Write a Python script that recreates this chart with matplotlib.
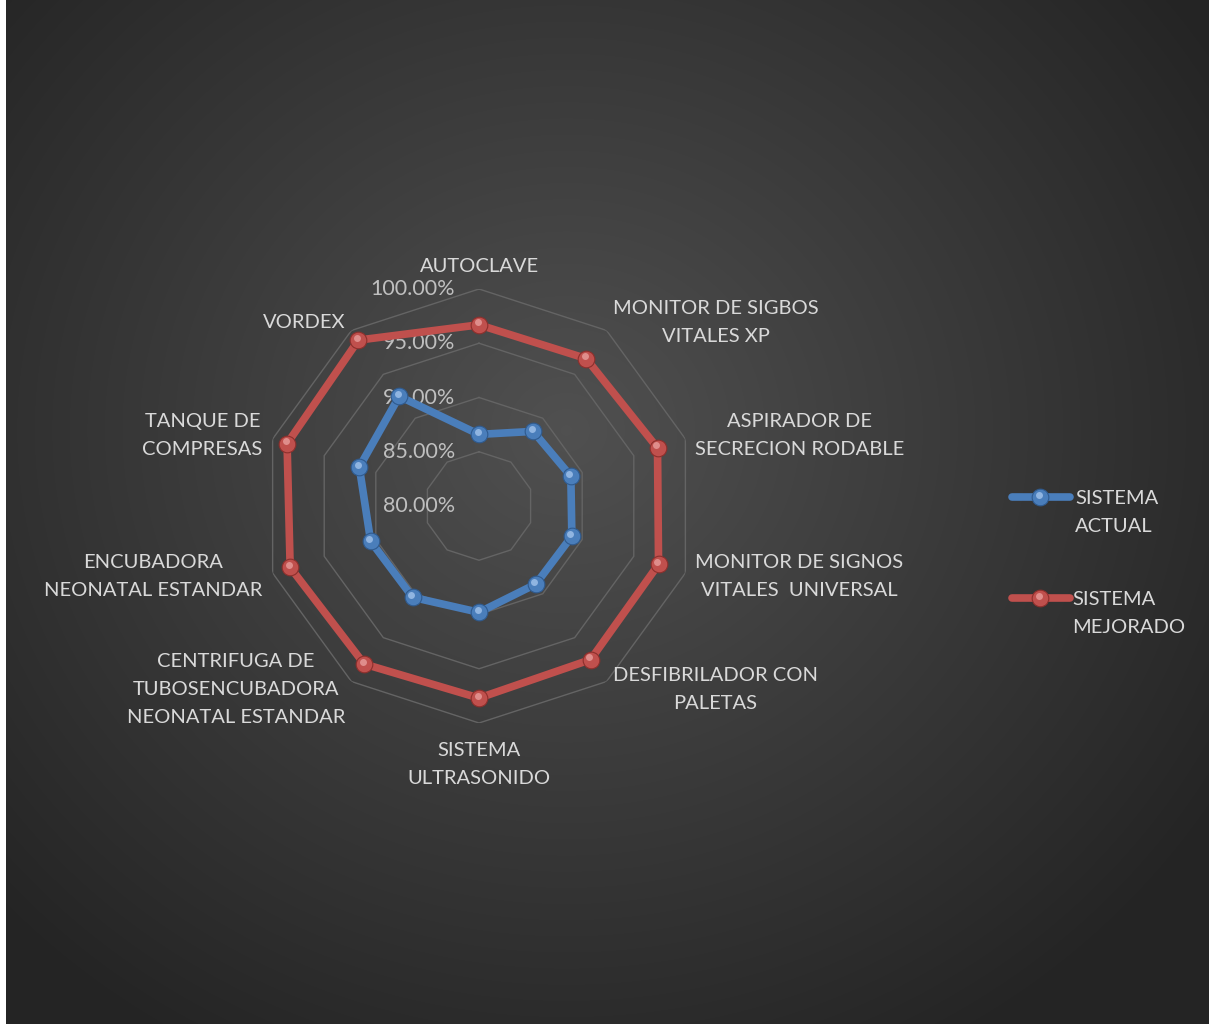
import numpy as np
import matplotlib
matplotlib.use("Agg")
import matplotlib.pyplot as plt
import matplotlib.transforms as mtransforms
from matplotlib.lines import Line2D

# datos del grafico radial
categorias = ["AUTOCLAVE",
              "MONITOR DE SIGBOS\nVITALES XP",
              "ASPIRADOR DE\nSECRECION RODABLE",
              "MONITOR DE SIGNOS\nVITALES  UNIVERSAL",
              "DESFIBRILADOR CON\nPALETAS",
              "SISTEMA\nULTRASONIDO",
              "CENTRIFUGA DE\nTUBOSENCUBADORA\nNEONATAL ESTANDAR",
              "ENCUBADORA\nNEONATAL ESTANDAR",
              "TANQUE DE\nCOMPRESAS",
              "VORDEX"]
sistema_actual = [86.6, 88.5, 88.9, 89.0, 88.9, 89.8, 90.4, 90.5, 91.6, 92.5]
sistema_mejorado = [96.7, 96.8, 97.3, 97.4, 97.5, 97.7, 98.0, 98.3, 98.6, 98.9]
niveles = [80, 85, 90, 95, 100]
etiquetas_niveles = ["80.00%", "85.00%", "90.00%", "95.00%", "100.00%"]
series = ["SISTEMA\nACTUAL", "SISTEMA\nMEJORADO"]

FUENTE = "Lato"
W, H = 1209, 1024
fig = plt.figure(figsize=(W / 100, H / 100), dpi=100)
fig.patch.set_facecolor("white")

# fondo con degradado radial
bg = fig.add_axes([6 / W, 0, 1 - 6 / W, 1])
yy, xx = np.mgrid[0:H, 0:W - 6]
d = np.sqrt(((xx - 560) / 760.0) ** 2 + ((yy - 430) / 700.0) ** 2)
v = np.clip(0.315 - 0.17 * d, 0.145, 0.315)
bg.imshow(np.dstack([v, v, v]), aspect="auto", extent=[0, 1, 0, 1])
bg.axis("off")

# eje polar: centro (479, 506) px, radio 217 px
cx, cy, R = 479, 506, 217
ax = fig.add_axes([(cx - R) / W, (H - cy - R) / H, 2 * R / W, 2 * R / H],
                  projection="polar")
ax.set_facecolor("none")
ax.set_theta_zero_location("N")
ax.set_theta_direction(-1)
ax.set_ylim(80, 100)
ax.grid(False)
ax.spines["polar"].set_visible(False)
ax.set_xticks([])
ax.set_yticks([])

n = len(categorias)
ang = np.linspace(0, 2 * np.pi, n, endpoint=False)
ang_c = np.append(ang, ang[0])

# anillos decagonales
for nv in niveles[1:]:
    ax.plot(ang_c, [nv] * (n + 1), color="#646464", lw=1.0, zorder=1)

# etiquetas de niveles
for nv, et in zip(niveles, etiquetas_niveles):
    tr = mtransforms.offset_copy(ax.transData, fig=fig, x=-24, y=0, units="dots")
    ax.text(0, nv, et, transform=tr, ha="right", va="center",
            color="#bfbfbf", fontsize=15.5, family=FUENTE, zorder=2)

colores = [("#4a7ebb", "#a9c8ef", "#2f5a8e"), ("#c0504d", "#eaa3a1", "#8c2f2c")]


def serie(valores, color, claro, oscuro):
    vals = np.append(valores, valores[0])
    ax.plot(ang_c, vals, color=color, lw=5.5, zorder=3, solid_joinstyle="round")
    ax.plot(ang, valores, ls="none", marker="o", ms=12, mfc=color,
            mec=oscuro, mew=0.8, zorder=4)
    tr = mtransforms.offset_copy(ax.transData, fig=fig, x=-1.5, y=2.5, units="dots")
    ax.plot(ang, valores, ls="none", marker="o", ms=5, mfc=claro,
            mec="none", alpha=0.75, transform=tr, zorder=5)


serie(sistema_actual, *colores[0])
serie(sistema_mejorado, *colores[1])

# etiquetas de categorias
for a, cat in zip(ang, categorias):
    s, c = np.sin(a), np.cos(a)
    if s > 0.1:
        ha = "left"
    elif s < -0.1:
        ha = "right"
    else:
        ha = "center"
    if abs(s) < 0.1:
        va = "bottom" if c > 0 else "top"
        dx, dy = 0, (14 if c > 0 else -19)
    else:
        va = "center"
        dx, dy = 10.5 * s, 10 * c
    tr = mtransforms.offset_copy(ax.transData, fig=fig, x=dx, y=dy, units="dots")
    ax.text(a, 100, cat, transform=tr, ha=ha, va=va, multialignment="center",
            color="#d9d9d9", fontsize=14.5, family=FUENTE, linespacing=1.8,
            zorder=2)

# leyenda manual
for (color, claro, oscuro), nombre, y_px, x_txt in zip(colores, series,
                                                       [497, 598], [1075, 1072]):
    yf = 1 - y_px / H
    fig.add_artist(Line2D([1012 / W, 1070 / W], [yf, yf], color=color, lw=5.5,
                          transform=fig.transFigure, solid_capstyle="round"))
    fig.add_artist(Line2D([1040 / W], [yf], ls="none", marker="o", ms=12,
                          mfc=color, mec=oscuro, mew=0.8,
                          transform=fig.transFigure))
    fig.add_artist(Line2D([1038.5 / W], [yf + 2.5 / H], ls="none", marker="o",
                          ms=5, mfc=claro, mec="none", alpha=0.75,
                          transform=fig.transFigure))
    fig.text(x_txt / W, yf + 7 / H, nombre, ha="left", va="top",
             color="#d9d9d9", fontsize=14.5, family=FUENTE, linespacing=1.8)

fig.savefig("out.png", dpi=100, facecolor=fig.get_facecolor())
